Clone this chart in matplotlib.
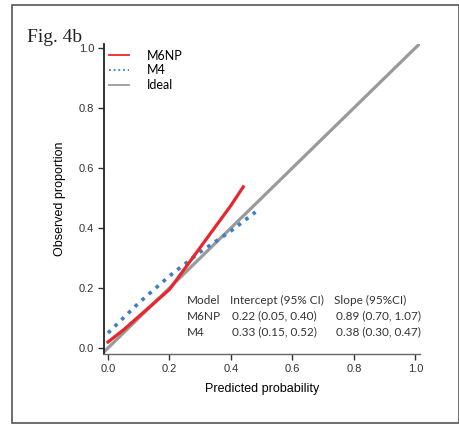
import matplotlib.pyplot as plt
from matplotlib.patches import Rectangle

# calibration curves
m6np_x = [0.0, 0.05, 0.10, 0.15, 0.20, 0.25, 0.30, 0.35, 0.40, 0.44]
m6np_y = [0.02, 0.06, 0.105, 0.15, 0.195, 0.265, 0.335, 0.405, 0.475, 0.537]
m4_x = [0.0, 0.1, 0.2, 0.3, 0.4, 0.48]
m4_y = [0.05, 0.15, 0.24, 0.32, 0.39, 0.453]
ideal_x = [-0.02, 1.013]
ideal_y = [-0.02, 1.013]

table_rows = [
    ["Model", "Intercept (95% CI)", "Slope (95%CI)"],
    ["M6NP", "0.22 (0.05, 0.40)", "0.89 (0.70, 1.07)"],
    ["M4", "0.33 (0.15, 0.52)", "0.38 (0.30, 0.47)"],
]
ticks = [0.0, 0.2, 0.4, 0.6, 0.8, 1.0]

fig = plt.figure(figsize=(4.6, 4.24), dpi=100)
ax = fig.add_axes([104 / 460, 1 - 354 / 424, 316 / 460, 310 / 424])

ax.plot(ideal_x, ideal_y, color="#9a9a9a", lw=2.3, label="Ideal", zorder=1)
ax.plot(m4_x, m4_y, color="#3d7fc4", lw=2.6, ls=(0, (1, 1.6)), label="M4", zorder=2)
ax.plot(m6np_x, m6np_y, color="#e8262b", lw=2.3, label="M6NP", zorder=3)

ax.set_xlim(-0.013, 1.015)
ax.set_ylim(-0.02, 1.013)
ax.set_xticks(ticks)
ax.set_yticks(ticks)
ax.set_xticklabels(["%.1f" % t for t in ticks], fontsize=8, color="#333333",
                   family="Liberation Sans")
ax.set_yticklabels(["%.1f" % t for t in ticks], fontsize=8, color="#333333",
                   family="Liberation Sans")
ax.tick_params(direction="out", length=4, width=1, color="#333333", pad=3)
for s in ["top", "right"]:
    ax.spines[s].set_visible(False)
ax.spines["left"].set_linewidth(1.3)
ax.spines["bottom"].set_linewidth(1.0)
ax.spines["left"].set_color("#222222")
ax.spines["bottom"].set_color("#666666")

ax.set_xlabel("Predicted probability", fontsize=9, family="Liberation Sans", labelpad=7)
ax.set_ylabel("Observed proportion", fontsize=9, family="Liberation Sans", labelpad=9)

handles, labels = ax.get_legend_handles_labels()
order = [2, 1, 0]
ax.legend([handles[i] for i in order], [labels[i] for i in order],
          loc="upper left", bbox_to_anchor=(0.0, 0.998), frameon=False,
          prop={"family": "Lato", "size": 9}, handlelength=1.6,
          handletextpad=1.4, labelspacing=0.22, borderaxespad=0.2,
          borderpad=0.2)
for h in ax.get_legend().get_lines():
    h.set_linewidth(1.3)

col_x = [187, 230, 334]
row_y = [300, 316, 332]
offsets = [[0, 0, 0], [0, 2, 2], [0, 2, 2]]
for r, row in enumerate(table_rows):
    for c, txt in enumerate(row):
        fig.text((col_x[c] + offsets[r][c]) / 460, 1 - row_y[r] / 424, txt,
                 fontsize=8.5, family="Lato", color="#333333", va="center")

fig.text(27 / 460, 1 - 42 / 424, "Fig. 4b", fontsize=14, family="Liberation Serif",
         color="#222222", va="baseline")

fig.patches.append(Rectangle((12 / 460, 1 - 423 / 424), 447 / 460, 418 / 424,
                             transform=fig.transFigure, fill=False,
                             edgecolor="#555555", lw=1.2))

fig.savefig("out.png", dpi=100)
